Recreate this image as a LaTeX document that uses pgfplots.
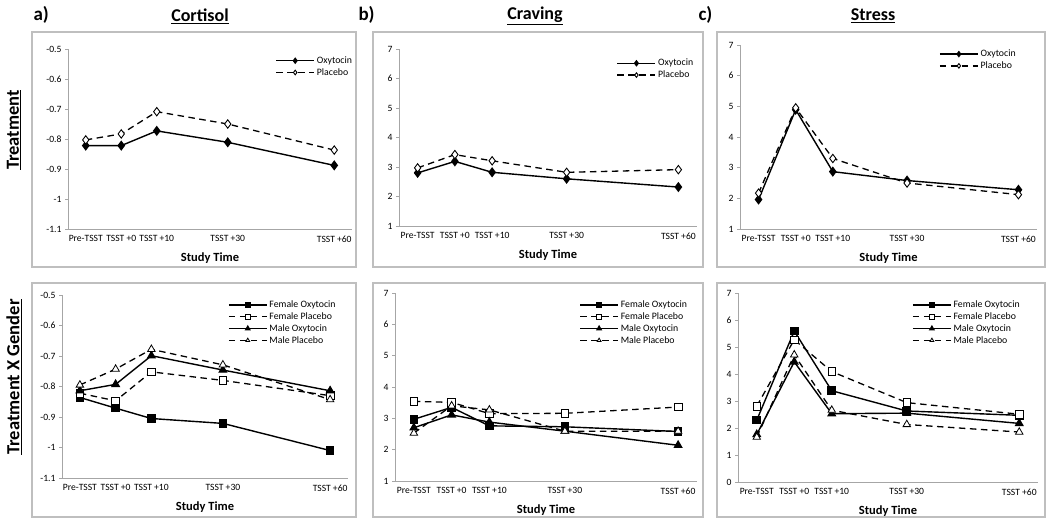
\documentclass[border=0pt]{standalone}
\usepackage{fontspec}
\setmainfont{Carlito}
\usepackage{pgfplots}
\pgfplotsset{compat=1.18}

\pgfplotsset{
  panel/.style={
    scale only axis, anchor=south west, clip=false,
    axis lines=left, axis line style={-, draw=black!35, line width=0.8pt},
    xmin=-15, xmax=65,
    xtick={-10,0,10,30,60},
    xticklabels={Pre-TSST,TSST +0,TSST +10,TSST +30,TSST +60},
    xtick style={draw=none},
    ytick style={draw=black!35, line width=0.7pt},
    tick align=outside, major tick length=3pt,
    tick label style={font=\fontsize{9.6}{9.6}\selectfont, text=black},
    /pgf/number format/assume math mode=true,
    xlabel={Study Time},
    xlabel style={font=\bfseries\fontsize{12.5}{12.5}\selectfont, yshift=-4pt},
    legend cell align=left,
    legend style={draw=none, fill=none, anchor=north west, inner sep=0pt,
      font=\fontsize{9.8}{10}\selectfont, row sep=-0.5pt},
    legend image code/.code={
      \draw[mark repeat=2, mark phase=2, #1, mark size=2.3pt]
        plot coordinates {(0pt,0pt) (19pt,0pt) (38pt,0pt)};
    },
  },
  oxy/.style={black, line width=1.4pt, mark=diamond*, mark size=4pt,
    mark options={solid, fill=black}},
  pla/.style={black, line width=1.3pt, dash pattern=on 6.5pt off 4.5pt, mark=diamond*, mark size=4.2pt,
    mark options={solid, fill=white, line width=0.9pt}},
  fo/.style={black, line width=1.4pt, mark=square*, mark size=3.6pt,
    mark options={solid, fill=black}},
  fp/.style={black, line width=1.3pt, dash pattern=on 6.5pt off 4.5pt, mark=square*, mark size=3.8pt,
    mark options={solid, fill=white, line width=0.8pt}},
  mo/.style={black, line width=1.4pt, mark=triangle*, mark size=4pt,
    mark options={solid, fill=black}},
  mp/.style={black, line width=1.3pt, dash pattern=on 6.5pt off 4.5pt, mark=triangle*, mark size=4.3pt,
    mark options={solid, fill=white, line width=0.8pt}},
  cortisol/.style={ymin=-1.1, ymax=-0.5, ytick={-1.1,-1,-0.9,-0.8,-0.7,-0.6,-0.5}},
}

\begin{document}
\begin{tikzpicture}
\useasboundingbox (0pt,0pt) rectangle (1050pt,522pt);

% panel frames
\foreach \xa/\xb in {32/356, 373/703, 717/1045} {
  \draw[black!25, line width=1.2pt] (\xa pt,255pt) rectangle (\xb pt,490pt);
  \draw[black!25, line width=1.2pt] (\xa pt,5pt) rectangle (\xb pt,239pt);
}

% titles
\node[anchor=west, font=\bfseries\fontsize{19}{19}\selectfont] at (30pt,507pt) {a)};
\node[font=\bfseries\fontsize{18}{18}\selectfont] at (200pt,506pt) {\underline{Cortisol}};
\node[anchor=west, font=\bfseries\fontsize{19}{19}\selectfont] at (355pt,507pt) {b)};
\node[font=\bfseries\fontsize{18}{18}\selectfont] at (535pt,506pt) {\underline{Craving}};
\node[anchor=west, font=\bfseries\fontsize{19}{19}\selectfont] at (695pt,507pt) {c)};
\node[font=\bfseries\fontsize{18}{18}\selectfont] at (873pt,506pt) {\underline{Stress}};
\node[rotate=90, font=\bfseries\fontsize{18.5}{18.5}\selectfont] at (14pt,392pt) {\underline{Treatment}};
\node[rotate=90, font=\bfseries\fontsize{18.5}{18.5}\selectfont] at (14pt,145pt) {\underline{Treatment X Gender}};

% a) Cortisol, treatment
\begin{axis}[panel, cortisol, at={(68pt,293pt)}, width=284pt, height=180pt,
  legend style={at={(0.73,0.97)}}]
\addplot[oxy] coordinates {(-10,-0.822) (0,-0.822) (10,-0.773) (30,-0.811) (60,-0.888)};
\addplot[pla] coordinates {(-10,-0.803) (0,-0.783) (10,-0.709) (30,-0.750) (60,-0.837)};
\legend{Oxytocin, Placebo}
\end{axis}

% a) Cortisol, treatment x gender
\begin{axis}[panel, cortisol, at={(62pt,44pt)}, width=286pt, height=183pt,
  legend style={at={(0.58,0.98)}}]
\addplot[fo] coordinates {(-10,-0.836) (0,-0.871) (10,-0.905) (30,-0.921) (60,-1.010)};
\addplot[fp] coordinates {(-10,-0.822) (0,-0.847) (10,-0.752) (30,-0.780) (60,-0.830)};
\addplot[mo] coordinates {(-10,-0.814) (0,-0.793) (10,-0.699) (30,-0.746) (60,-0.814)};
\addplot[mp] coordinates {(-10,-0.795) (0,-0.743) (10,-0.678) (30,-0.729) (60,-0.843)};
\legend{Female Oxytocin, Female Placebo, Male Oxytocin, Male Placebo}
\end{axis}

% b) Craving, treatment
\begin{axis}[panel, at={(399pt,296pt)}, width=298pt, height=177pt,
  ymin=1, ymax=7, ytick={1,...,7}, legend style={at={(0.73,0.955)}}]
\addplot[oxy] coordinates {(-10,2.80) (0,3.19) (10,2.82) (30,2.60) (60,2.32)};
\addplot[pla] coordinates {(-10,2.97) (0,3.42) (10,3.21) (30,2.82) (60,2.91)};
\legend{Oxytocin, Placebo}
\end{axis}

% b) Craving, treatment x gender
\begin{axis}[panel, at={(395pt,41pt)}, width=302pt, height=188pt,
  ymin=1, ymax=7, ytick={1,...,7}, legend style={at={(0.61,0.97)}}]
\addplot[fo] coordinates {(-10,2.97) (0,3.35) (10,2.76) (30,2.73) (60,2.58)};
\addplot[fp] coordinates {(-10,3.54) (0,3.51) (10,3.15) (30,3.16) (60,3.36)};
\addplot[mo] coordinates {(-10,2.70) (0,3.11) (10,2.88) (30,2.59) (60,2.14)};
\addplot[mp] coordinates {(-10,2.53) (0,3.40) (10,3.27) (30,2.59) (60,2.59)};
\legend{Female Oxytocin, Female Placebo, Male Oxytocin, Male Placebo}
\end{axis}

% c) Stress, treatment
\begin{axis}[panel, at={(740pt,293pt)}, width=297pt, height=184pt,
  ymin=1, ymax=7, ytick={1,...,7}, legend style={at={(0.67,0.985)}}]
\addplot[oxy] coordinates {(-10,1.96) (0,4.89) (10,2.87) (30,2.58) (60,2.28)};
\addplot[pla] coordinates {(-10,2.17) (0,4.95) (10,3.30) (30,2.50) (60,2.12)};
\legend{Oxytocin, Placebo}
\end{axis}

% c) Stress, treatment x gender
\begin{axis}[panel, at={(738pt,40pt)}, width=300pt, height=189pt,
  ymin=0, ymax=7, ytick={0,...,7}, legend style={at={(0.58,0.97)}}]
\addplot[fo] coordinates {(-10,2.29) (0,5.59) (10,3.38) (30,2.63) (60,2.47)};
\addplot[fp] coordinates {(-10,2.81) (0,5.27) (10,4.09) (30,2.94) (60,2.51)};
\addplot[mo] coordinates {(-10,1.76) (0,4.45) (10,2.53) (30,2.55) (60,2.17)};
\addplot[mp] coordinates {(-10,1.66) (0,4.71) (10,2.66) (30,2.13) (60,1.85)};
\legend{Female Oxytocin, Female Placebo, Male Oxytocin, Male Placebo}
\end{axis}
\end{tikzpicture}
\end{document}
